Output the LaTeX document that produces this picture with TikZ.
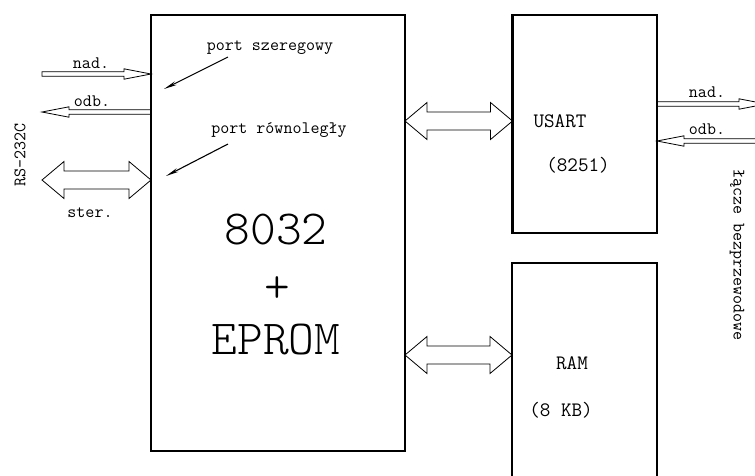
\documentclass[tikz,border=0pt]{standalone}
\usepackage{fontspec}
\newfontfamily\lightmono{lmmonolt10-regular.otf}
\usetikzlibrary{calc,arrows.meta}
\begin{document}
\begin{tikzpicture}[x=1pt,y=-1pt,
  box/.style={draw, line width=2.4pt, inner sep=0pt, outer sep=0pt},
  smalltxt/.style={inner sep=0pt, font=\ttfamily\fontsize{17.5}{17.5}\selectfont},
  midtxt/.style={inner sep=0pt, font=\ttfamily\fontsize{20.5}{20.5}\selectfont},
  bigtxt/.style={inner sep=0pt, font=\lightmono\fontsize{49}{49}\selectfont},
  pointer/.style={line width=1.1pt, -{Stealth[length=13pt,width=4pt]}},
  % thin hollow arrow, tip at the target
  thinarrow/.style={draw, line width=0.8pt, to path={
    let \p1=(\tikztostart), \p2=(\tikztotarget),
        \p3=($(\p2)!27pt!(\p1)$) in
    ($(\p1)!2.3pt!90:(\p2)$) -- ($(\p3)!2.3pt!90:(\p2)$)
    -- ($(\p3)!5.2pt!90:(\p2)$) -- (\p2)
    -- ($(\p3)!5.2pt!-90:(\p2)$) -- ($(\p3)!2.3pt!-90:(\p2)$)
    -- ($(\p1)!2.3pt!-90:(\p2)$) -- cycle}},
  % wide hollow bus arrow, heads at both ends
  busarrow/.style={draw, line width=0.8pt, to path={
    let \p1=(\tikztostart), \p2=(\tikztotarget),
        \p3=($(\p1)!22pt!(\p2)$), \p4=($(\p2)!22pt!(\p1)$) in
    (\p1) -- ($(\p3)!18.5pt!90:(\p2)$) -- ($(\p3)!9pt!90:(\p2)$)
    -- ($(\p4)!9pt!90:(\p2)$) -- ($(\p4)!18.5pt!90:(\p2)$) -- (\p2)
    -- ($(\p4)!18.5pt!-90:(\p2)$) -- ($(\p4)!9pt!-90:(\p2)$)
    -- ($(\p3)!9pt!-90:(\p2)$) -- ($(\p3)!18.5pt!-90:(\p2)$) -- cycle}}
]
\useasboundingbox (0,0) rectangle (755,475);

% blocks
\node[box, minimum width=254pt, minimum height=436pt] (cpu) at (278,233) {};
\node[box, minimum width=144.5pt, minimum height=218pt] (usart) at (584.75,124) {};
\node[inner sep=0pt, outer sep=0pt, minimum width=145pt, minimum height=230pt] (ram) at (584.5,378) {};
\draw[line width=2.4pt] (ram.south west) |- (ram.north east) -- (ram.south east);

% block texts
\node[bigtxt] (cpu8032) at (276,230) {8032};
\node[bigtxt] (cpuplus) at (277,290) {+};
\node[bigtxt] (cpueprom) at (276,340) {EPROM};
\node[midtxt] (usartname) at (560,121) {USART};
\node[midtxt] (usarttype) at (578,165) {(8251)};
\node[midtxt] (ramname) at (572,363) {RAM};
\node[midtxt] (ramsize) at (561,410) {(8 KB)};

% port labels with pointers
\node[smalltxt] (ser) at (270,48) {port szeregowy};
\node[smalltxt] (par) at (279,130) {port równoległy};
\coordinate (ser-tail) at (228,57);
\coordinate (ser-pin) at (164,89);
\coordinate (par-tail) at (228,144);
\coordinate (par-pin) at (166,176);
\draw[pointer] (ser-tail) -- (ser-pin);
\draw[pointer] (par-tail) -- (par-pin);

% RS-232C side
\coordinate (rs-tx) at (42,74);
\coordinate (rs-rx) at (42,112);
\coordinate (rs-ctl) at (42,180);
\draw[thinarrow] (rs-tx) to (cpu.west |- 0,74);
\draw[thinarrow] (cpu.west |- 0,112) to (rs-rx);
\draw[busarrow] (rs-ctl) to (cpu.west |- 0,180);
\node[smalltxt] (rs-nad) at (91,63) {nad.};
\node[smalltxt] (rs-odb) at (92,101) {odb.};
\node[smalltxt] (rs-ster) at (90,213) {ster.};
\node[smalltxt, rotate=90] (rs232) at (20,155) {RS-232C};

% internal buses
\draw[busarrow] (cpu.east |- 0,121) to (usart.west |- 0,121);
\draw[busarrow] (cpu.east |- 0,355) to (ram.west |- 0,355);

% radio link side
\coordinate (rf-tx) at (766,104);
\coordinate (rf-rx) at (770,141);
\draw[thinarrow] (usart.east |- 0,104) to (rf-tx);
\draw[thinarrow] (rf-rx) to (usart.east |- 0,141);
\node[smalltxt] (rf-nad) at (707,92) {nad.};
\node[smalltxt] (rf-odb) at (707,129) {odb.};
\node[smalltxt, rotate=-90] (rf-link) at (737,255) {łącze bezprzewodowe};
\end{tikzpicture}
\end{document}
